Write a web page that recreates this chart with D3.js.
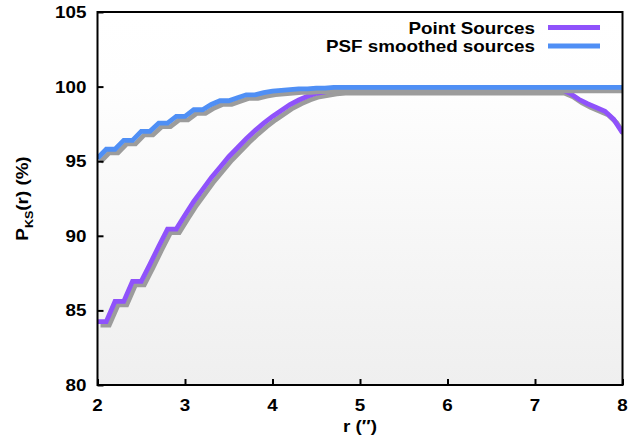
<!DOCTYPE html>
<html>
<head>
<meta charset="utf-8">
<script src="https://cdn.jsdelivr.net/npm/d3@7"></script>
<style>
  body { margin: 0; background: #fff; }
  svg { display: block; font-family: "Liberation Sans", Arial, sans-serif; font-weight: bold; }
</style>
</head>
<body>
<div id="chart"></div>
<script>
// radius samples (arcsec)
const radii = [2.0, 2.1, 2.2, 2.3, 2.4, 2.5, 2.6, 2.7, 2.8, 2.9,
  3.0, 3.1, 3.2, 3.3, 3.4, 3.5, 3.6, 3.7, 3.8, 3.9,
  4.0, 4.1, 4.2, 4.3, 4.4, 4.5, 4.6, 4.7, 4.8, 4.9,
  5.0, 5.1, 5.2, 5.3, 5.4, 5.5, 5.6, 5.7, 5.8, 5.9,
  6.0, 6.1, 6.2, 6.3, 6.4, 6.5, 6.6, 6.7, 6.8, 6.9,
  7.0, 7.1, 7.2, 7.3, 7.4, 7.5, 7.6, 7.7, 7.8, 7.9, 8.0];

const pointSources = [84.25, 84.25, 85.6, 85.6, 86.95, 86.95, 88.1, 89.3, 90.45, 90.45,
  91.4, 92.3, 93.1, 93.9, 94.6, 95.3, 95.9, 96.5, 97.05, 97.55,
  98.0, 98.4, 98.8, 99.1, 99.35, 99.55, 99.65, 99.75, 99.8, 99.8,
  99.8, 99.8, 99.8, 99.8, 99.8, 99.8, 99.8, 99.8, 99.8, 99.8,
  99.8, 99.8, 99.8, 99.8, 99.8, 99.8, 99.8, 99.8, 99.8, 99.8,
  99.8, 99.8, 99.8, 99.8, 99.55, 99.15, 98.85, 98.6, 98.35, 97.8, 96.9];

const psfSources = [95.2, 95.8, 95.8, 96.4, 96.4, 97.0, 97.0, 97.55, 97.55, 98.0,
  98.0, 98.45, 98.45, 98.8, 99.05, 99.05, 99.25, 99.45, 99.45, 99.6,
  99.7, 99.75, 99.8, 99.85, 99.85, 99.9, 99.9, 99.95, 99.95, 99.95,
  99.95, 99.95, 99.95, 99.95, 99.95, 99.95, 99.95, 99.95, 99.95, 99.95,
  99.95, 99.95, 99.95, 99.95, 99.95, 99.95, 99.95, 99.95, 99.95, 99.95,
  99.95, 99.95, 99.95, 99.95, 99.95, 99.95, 99.95, 99.95, 99.95, 99.95, 99.95];

const seriesNames = ["Point Sources", "PSF smoothed sources"];
const seriesColors = ["#8f52fb", "#4f8ff5"];
const xTicks = [2, 3, 4, 5, 6, 7, 8];
const yTicks = [80, 85, 90, 95, 100, 105];

const width = 631, height = 446;
const margin = { top: 12, right: 8.5, bottom: 61, left: 97.5 };
const innerW = width - margin.left - margin.right;
const innerH = height - margin.top - margin.bottom;
const FONT = 16.5, STRETCH = 1.14;

const svg = d3.select("#chart").append("svg")
  .attr("width", width).attr("height", height);

// the original text is a bit wide, so each label gets a horizontal stretch
function label(parent, x, y, str, anchor, rotate) {
  const t = parent.append("g")
    .attr("transform", `translate(${x},${y})${rotate ? " rotate(-90)" : ""} scale(${STRETCH},1)`)
    .append("text")
    .attr("text-anchor", anchor)
    .style("font-size", FONT + "px")
    .attr("fill", "#000");
  if (str != null) t.text(str);
  return t;
}

const defs = svg.append("defs");
const grad = defs.append("linearGradient")
  .attr("id", "bg").attr("x1", 0).attr("y1", 0).attr("x2", 0).attr("y2", 1);
grad.append("stop").attr("offset", 0).attr("stop-color", "#ffffff");
grad.append("stop").attr("offset", 0.2).attr("stop-color", "#fefefe");
grad.append("stop").attr("offset", 1).attr("stop-color", "#efefef");

const g = svg.append("g").attr("transform", `translate(${margin.left},${margin.top})`);

const x = d3.scaleLinear().domain([2, 8]).range([0, innerW]);
const y = d3.scaleLinear().domain([80, 105]).range([innerH, 0]);

g.append("rect")
  .attr("width", innerW).attr("height", innerH)
  .attr("fill", "url(#bg)");

defs.append("clipPath").attr("id", "clip")
  .append("rect").attr("width", innerW).attr("height", innerH);

const line = d3.line()
  .x((d, i) => x(radii[i]))
  .y(d => y(d));

const plot = g.append("g").attr("clip-path", "url(#clip)");
[pointSources, psfSources].forEach((vals, i) => {
  // drop shadow then line, per series
  plot.append("path")
    .attr("d", line(vals))
    .attr("transform", "translate(3,3.5)")
    .attr("fill", "none")
    .attr("stroke", "#9c9c9c")
    .attr("stroke-width", 4.8);
  plot.append("path")
    .attr("d", line(vals))
    .attr("fill", "none")
    .attr("stroke", seriesColors[i])
    .attr("stroke-width", 4.8);
});

// frame
g.append("rect")
  .attr("width", innerW).attr("height", innerH)
  .attr("fill", "none").attr("stroke", "#000").attr("stroke-width", 2);

// axes with inward ticks, labels drawn separately
const xAxis = g.append("g").attr("transform", `translate(0,${innerH})`)
  .call(d3.axisBottom(x).tickValues(xTicks).tickSize(-6).tickFormat(""));
const yAxis = g.append("g")
  .call(d3.axisLeft(y).tickValues(yTicks).tickSize(-6).tickFormat(""));
[xAxis, yAxis].forEach(ax => {
  ax.select(".domain").remove();
  ax.selectAll(".tick line").attr("stroke", "#000").attr("stroke-width", 2);
});

xTicks.forEach(v => label(g, x(v), innerH + 26, String(v), "middle"));
yTicks.forEach(v => label(g, -11, y(v) + 6, String(v), "end"));

// axis titles
label(svg, margin.left + innerW / 2, 432, "r (\u2033)", "middle");

const yTitle = label(svg, 28, margin.top + innerH / 2, null, "middle", true);
yTitle.append("tspan").text("P");
yTitle.append("tspan").attr("dy", 5).style("font-size", "11px").text("KS");
yTitle.append("tspan").attr("dy", -5).text("(r) (%)");

// legend
seriesNames.forEach((name, i) => {
  const ly = 27.5 + i * 18.5;
  label(svg, 535, ly + 6, name, "end");
  svg.append("line")
    .attr("x1", 548).attr("x2", 600)
    .attr("y1", ly).attr("y2", ly)
    .attr("stroke", seriesColors[i])
    .attr("stroke-width", 4.8);
});
</script>
</body>
</html>
